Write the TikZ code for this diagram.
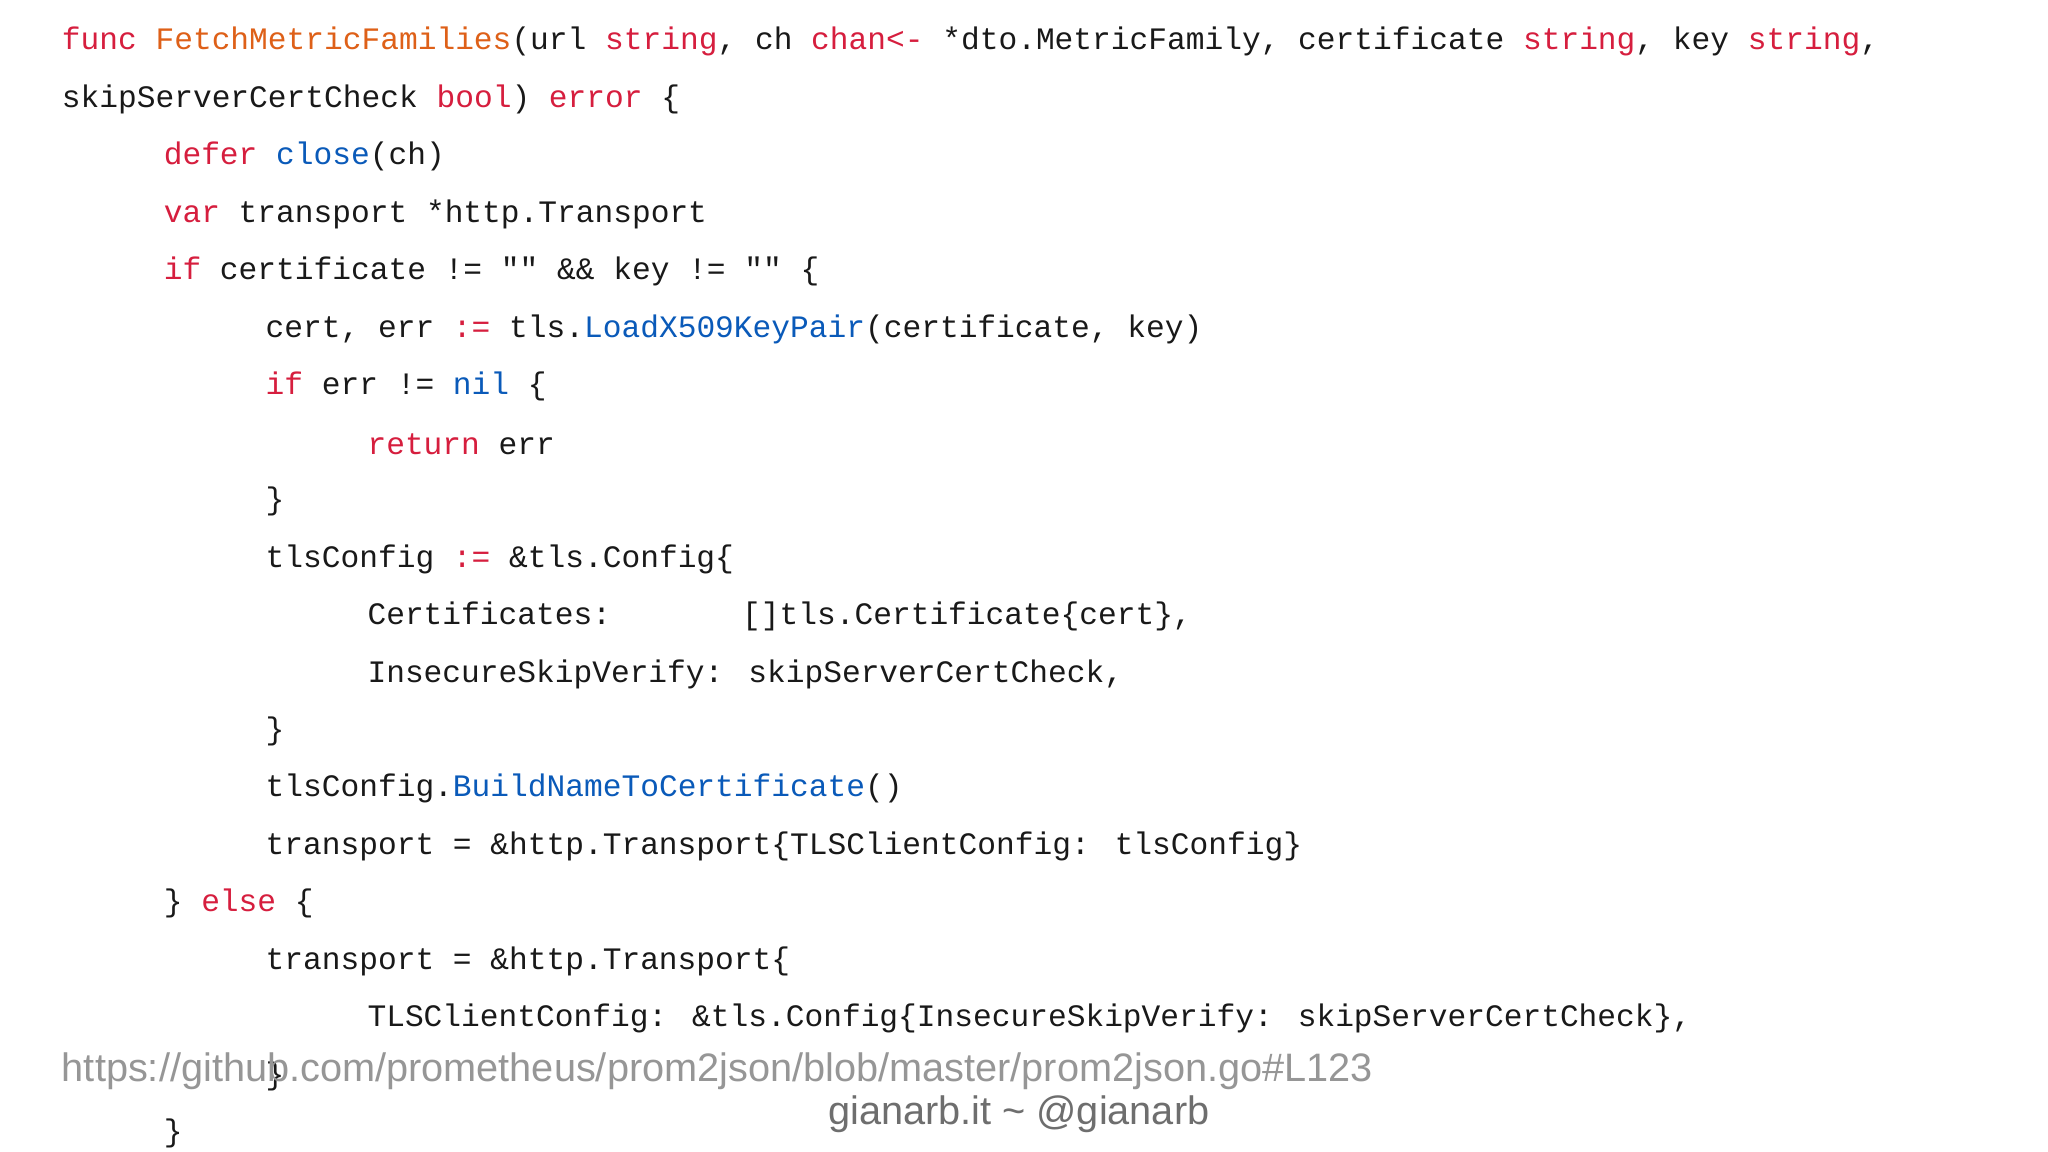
\documentclass[tikz,border=0pt]{standalone}
\usepackage{fontspec}
\newfontfamily\codefont{Liberation Mono}[Ligatures={}]
\setmainfont{Liberation Sans}
\definecolor{kwred}{RGB}{214,30,62}
\definecolor{fnorg}{RGB}{222,96,24}
\definecolor{bltin}{RGB}{10,90,185}
\definecolor{txt}{RGB}{25,25,25}
\definecolor{foot}{RGB}{150,150,150}
\definecolor{foot2}{RGB}{110,110,110}
\newcommand{\kw}[1]{\textcolor{kwred}{#1}}
\newcommand{\fnn}[1]{\textcolor{fnorg}{#1}}
\newcommand{\bl}[1]{\textcolor{bltin}{#1}}
\begin{document}
\begin{tikzpicture}[x=0.5pt,y=-0.5pt,
  cl/.style={anchor=west,inner sep=0pt,font=\codefont\fontsize{11.95}{12}\selectfont,text=txt},
  ft/.style={inner sep=0pt,font=\fontsize{15.2}{16}\selectfont}]
\fill[white] (0,0) rectangle (1568,882);
\useasboundingbox (0,0) rectangle (1568,882);
\def\a{47}\def\b{125}\def\c{203}\def\d{281}
\node[cl] (l0) at (\a,32) {\kw{func} \fnn{FetchMetricFamilies}(url \kw{string}, ch \kw{chan<-} *dto.MetricFamily, certificate \kw{string}, key \kw{string},};
\node[cl] (l1) at (\a,76) {skipServerCertCheck \kw{bool}) \kw{error} \{};
\node[cl] (l2) at (\b,120) {\kw{defer} \bl{close}(ch)};
\node[cl] (l3) at (\b,164) {\kw{var} transport *http.Transport};
\node[cl] (l4) at (\b,208) {\kw{if} certificate != "" \&\& key != "" \{};
\node[cl] (l5) at (\c,252) {cert, err \kw{:=} tls.\bl{LoadX509KeyPair}(certificate, key)};
\node[cl] (l6) at (\c,296) {\kw{if} err != \bl{nil} \{};
\node[cl] (l7) at (\d,340) {\kw{return} err};
\node[cl] (l8) at (\c,384) {\}};
\node[cl] (l9) at (\c,428) {tlsConfig \kw{:=} \&tls.Config\{};
\node[cl] (l10) at (\d,472) {Certificates:\ \ \ \ \ \ \ []tls.Certificate\{cert\},};
\node[cl] (l11) at (\d,516) {InsecureSkipVerify: skipServerCertCheck,};
\node[cl] (l12) at (\c,560) {\}};
\node[cl] (l13) at (\c,604) {tlsConfig.\bl{BuildNameToCertificate}()};
\node[cl] (l14) at (\c,648) {transport = \&http.Transport\{TLSClientConfig: tlsConfig\}};
\node[cl] (l15) at (\b,692) {\} \kw{else} \{};
\node[cl] (l16) at (\c,736) {transport = \&http.Transport\{};
\node[cl] (l17) at (\d,780) {TLSClientConfig: \&tls.Config\{InsecureSkipVerify: skipServerCertCheck\},};
\node[cl] (l18) at (\c,824) {\}};
\node[cl] (l19) at (\b,868) {\}};
\node[ft,anchor=west,text=foot] (url) at (\a,820) {https://github.com/prometheus/prom2json/blob/master/prom2json.go\#L123};
\node[ft,text=foot2] (sig) at (780,853) {gianarb.it \textasciitilde{} @gianarb};
\end{tikzpicture}
\end{document}
